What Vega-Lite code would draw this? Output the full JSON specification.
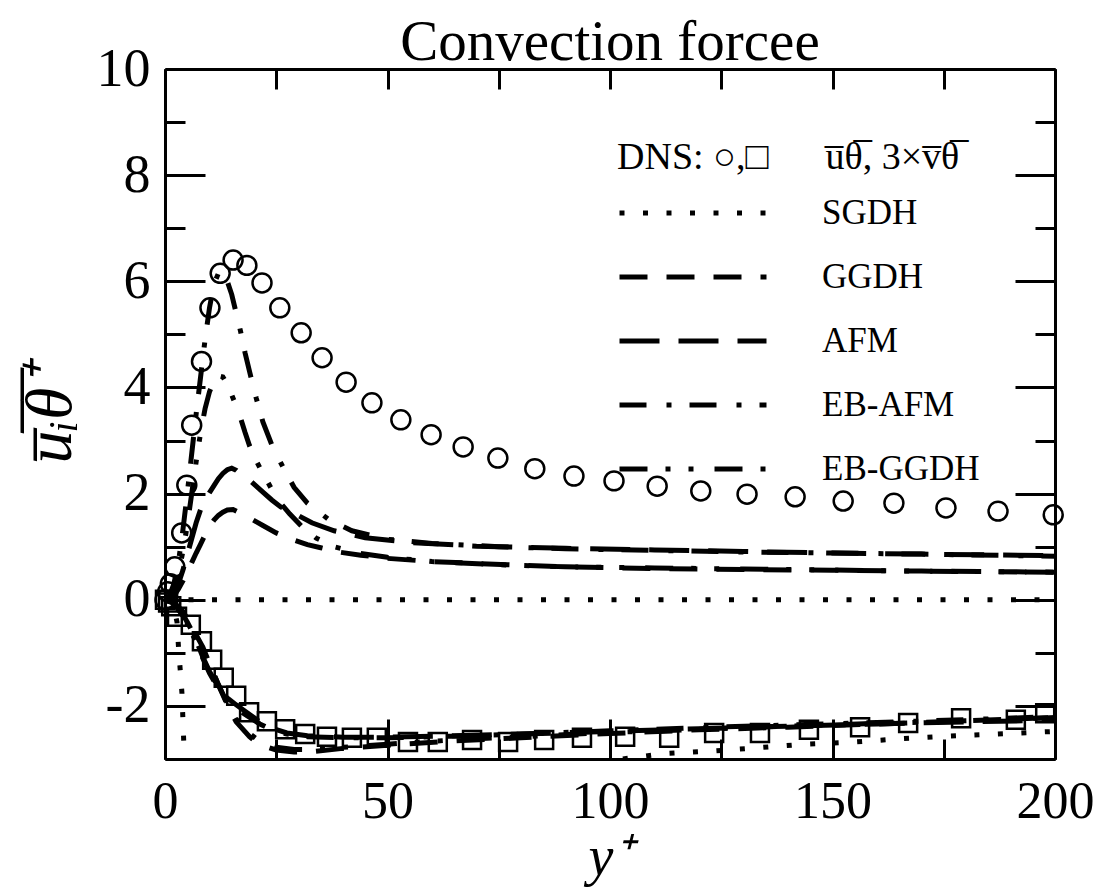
{
  "$schema": "https://vega.github.io/schema/vega-lite/v6.json",
  "autosize": {"type": "none"},
  "width": 890,
  "height": 690,
  "padding": {"left": 165, "top": 69, "right": 46, "bottom": 128},
  "background": "white",
  "title": {"text": "Convection forcee", "font": "Liberation Serif", "fontSize": 57, "fontWeight": "normal", "anchor": "middle", "offset": -30, "color": "black"},
  "config": {
    "view": {"stroke": null},
    "font": "Liberation Serif",
    "axis": {"domainColor": "black", "domainWidth": 3, "tickColor": "black", "tickWidth": 3, "grid": false, "labelFont": "Liberation Serif", "labelColor": "black", "labelFlush": false, "labelOverlap": false, "labelBound": false, "titleColor": "black", "titleFont": "Liberation Serif", "titleFontWeight": "normal", "titleFontStyle": "italic"}
  },
  "datasets": {
    "models": [
      {"model":"SGDH","branch":"u","yplus":0,"value":0},{"model":"SGDH","branch":"u","yplus":200,"value":0},
      {"model":"GGDH","branch":"u","yplus":0,"value":0},{"model":"GGDH","branch":"u","yplus":2,"value":0.08},{"model":"GGDH","branch":"u","yplus":3,"value":0.2},{"model":"GGDH","branch":"u","yplus":4,"value":0.35},{"model":"GGDH","branch":"u","yplus":5,"value":0.52},{"model":"GGDH","branch":"u","yplus":6,"value":0.7},{"model":"GGDH","branch":"u","yplus":7,"value":0.88},{"model":"GGDH","branch":"u","yplus":8,"value":1.05},{"model":"GGDH","branch":"u","yplus":9,"value":1.22},{"model":"GGDH","branch":"u","yplus":10,"value":1.38},{"model":"GGDH","branch":"u","yplus":11,"value":1.5},{"model":"GGDH","branch":"u","yplus":12,"value":1.59},{"model":"GGDH","branch":"u","yplus":13,"value":1.65},{"model":"GGDH","branch":"u","yplus":14,"value":1.69},{"model":"GGDH","branch":"u","yplus":15.3,"value":1.7},{"model":"GGDH","branch":"u","yplus":17,"value":1.63},{"model":"GGDH","branch":"u","yplus":19,"value":1.54},{"model":"GGDH","branch":"u","yplus":22,"value":1.4},{"model":"GGDH","branch":"u","yplus":25,"value":1.26},{"model":"GGDH","branch":"u","yplus":28.8,"value":1.13},{"model":"GGDH","branch":"u","yplus":32,"value":1.04},{"model":"GGDH","branch":"u","yplus":35,"value":0.98},{"model":"GGDH","branch":"u","yplus":39,"value":0.9},{"model":"GGDH","branch":"u","yplus":44,"value":0.84},{"model":"GGDH","branch":"u","yplus":50,"value":0.78},{"model":"GGDH","branch":"u","yplus":60,"value":0.72},{"model":"GGDH","branch":"u","yplus":77,"value":0.66},{"model":"GGDH","branch":"u","yplus":90,"value":0.62},{"model":"GGDH","branch":"u","yplus":110,"value":0.59},{"model":"GGDH","branch":"u","yplus":130,"value":0.57},{"model":"GGDH","branch":"u","yplus":150,"value":0.555},{"model":"GGDH","branch":"u","yplus":170,"value":0.54},{"model":"GGDH","branch":"u","yplus":200,"value":0.52},
      {"model":"AFM","branch":"u","yplus":0,"value":0},{"model":"AFM","branch":"u","yplus":1,"value":0.03},{"model":"AFM","branch":"u","yplus":2,"value":0.12},{"model":"AFM","branch":"u","yplus":3,"value":0.3},{"model":"AFM","branch":"u","yplus":4,"value":0.55},{"model":"AFM","branch":"u","yplus":5,"value":0.85},{"model":"AFM","branch":"u","yplus":6,"value":1.15},{"model":"AFM","branch":"u","yplus":7,"value":1.45},{"model":"AFM","branch":"u","yplus":8,"value":1.7},{"model":"AFM","branch":"u","yplus":9,"value":1.88},{"model":"AFM","branch":"u","yplus":10,"value":2.02},{"model":"AFM","branch":"u","yplus":11,"value":2.15},{"model":"AFM","branch":"u","yplus":12,"value":2.28},{"model":"AFM","branch":"u","yplus":13,"value":2.38},{"model":"AFM","branch":"u","yplus":14,"value":2.45},{"model":"AFM","branch":"u","yplus":15,"value":2.48},{"model":"AFM","branch":"u","yplus":16,"value":2.44},{"model":"AFM","branch":"u","yplus":17,"value":2.37},{"model":"AFM","branch":"u","yplus":18.4,"value":2.3},{"model":"AFM","branch":"u","yplus":20,"value":2.18},{"model":"AFM","branch":"u","yplus":22,"value":2.03},{"model":"AFM","branch":"u","yplus":24,"value":1.88},{"model":"AFM","branch":"u","yplus":26,"value":1.75},{"model":"AFM","branch":"u","yplus":29,"value":1.63},{"model":"AFM","branch":"u","yplus":33,"value":1.45},{"model":"AFM","branch":"u","yplus":38,"value":1.3},{"model":"AFM","branch":"u","yplus":45,"value":1.17},{"model":"AFM","branch":"u","yplus":55,"value":1.08},{"model":"AFM","branch":"u","yplus":70,"value":1.01},{"model":"AFM","branch":"u","yplus":90,"value":0.97},{"model":"AFM","branch":"u","yplus":110,"value":0.94},{"model":"AFM","branch":"u","yplus":130,"value":0.91},{"model":"AFM","branch":"u","yplus":150,"value":0.88},{"model":"AFM","branch":"u","yplus":170,"value":0.86},{"model":"AFM","branch":"u","yplus":200,"value":0.83},
      {"model":"EB-AFM","branch":"u","yplus":0,"value":0},{"model":"EB-AFM","branch":"u","yplus":1,"value":0.08},{"model":"EB-AFM","branch":"u","yplus":2,"value":0.3},{"model":"EB-AFM","branch":"u","yplus":3,"value":0.7},{"model":"EB-AFM","branch":"u","yplus":4,"value":1.3},{"model":"EB-AFM","branch":"u","yplus":5,"value":2.0},{"model":"EB-AFM","branch":"u","yplus":6,"value":2.75},{"model":"EB-AFM","branch":"u","yplus":7,"value":3.5},{"model":"EB-AFM","branch":"u","yplus":8,"value":4.2},{"model":"EB-AFM","branch":"u","yplus":9,"value":4.9},{"model":"EB-AFM","branch":"u","yplus":10,"value":5.5},{"model":"EB-AFM","branch":"u","yplus":11,"value":5.95},{"model":"EB-AFM","branch":"u","yplus":12,"value":6.15},{"model":"EB-AFM","branch":"u","yplus":13,"value":6.18},{"model":"EB-AFM","branch":"u","yplus":14,"value":6.0},{"model":"EB-AFM","branch":"u","yplus":15,"value":5.75},{"model":"EB-AFM","branch":"u","yplus":16,"value":5.4},{"model":"EB-AFM","branch":"u","yplus":17,"value":5.05},{"model":"EB-AFM","branch":"u","yplus":18,"value":4.65},{"model":"EB-AFM","branch":"u","yplus":19,"value":4.3},{"model":"EB-AFM","branch":"u","yplus":20.5,"value":3.8},{"model":"EB-AFM","branch":"u","yplus":22,"value":3.35},{"model":"EB-AFM","branch":"u","yplus":24,"value":2.92},{"model":"EB-AFM","branch":"u","yplus":26.5,"value":2.5},{"model":"EB-AFM","branch":"u","yplus":29,"value":2.12},{"model":"EB-AFM","branch":"u","yplus":32,"value":1.82},{"model":"EB-AFM","branch":"u","yplus":37,"value":1.5},{"model":"EB-AFM","branch":"u","yplus":42,"value":1.3},{"model":"EB-AFM","branch":"u","yplus":50,"value":1.14},{"model":"EB-AFM","branch":"u","yplus":60,"value":1.06},{"model":"EB-AFM","branch":"u","yplus":75,"value":1.0},{"model":"EB-AFM","branch":"u","yplus":90,"value":0.96},{"model":"EB-AFM","branch":"u","yplus":110,"value":0.93},{"model":"EB-AFM","branch":"u","yplus":130,"value":0.9},{"model":"EB-AFM","branch":"u","yplus":150,"value":0.88},{"model":"EB-AFM","branch":"u","yplus":170,"value":0.86},{"model":"EB-AFM","branch":"u","yplus":200,"value":0.82},
      {"model":"EB-GGDH","branch":"u","yplus":0,"value":0},{"model":"EB-GGDH","branch":"u","yplus":1,"value":0.05},{"model":"EB-GGDH","branch":"u","yplus":2,"value":0.2},{"model":"EB-GGDH","branch":"u","yplus":3,"value":0.5},{"model":"EB-GGDH","branch":"u","yplus":4,"value":0.9},{"model":"EB-GGDH","branch":"u","yplus":5,"value":1.4},{"model":"EB-GGDH","branch":"u","yplus":6,"value":2.0},{"model":"EB-GGDH","branch":"u","yplus":7,"value":2.6},{"model":"EB-GGDH","branch":"u","yplus":8,"value":3.15},{"model":"EB-GGDH","branch":"u","yplus":9,"value":3.6},{"model":"EB-GGDH","branch":"u","yplus":10,"value":3.92},{"model":"EB-GGDH","branch":"u","yplus":11,"value":4.12},{"model":"EB-GGDH","branch":"u","yplus":12,"value":4.22},{"model":"EB-GGDH","branch":"u","yplus":13,"value":4.2},{"model":"EB-GGDH","branch":"u","yplus":14,"value":4.05},{"model":"EB-GGDH","branch":"u","yplus":15,"value":3.86},{"model":"EB-GGDH","branch":"u","yplus":16,"value":3.65},{"model":"EB-GGDH","branch":"u","yplus":17,"value":3.42},{"model":"EB-GGDH","branch":"u","yplus":18,"value":3.15},{"model":"EB-GGDH","branch":"u","yplus":19,"value":2.9},{"model":"EB-GGDH","branch":"u","yplus":20.5,"value":2.62},{"model":"EB-GGDH","branch":"u","yplus":22,"value":2.38},{"model":"EB-GGDH","branch":"u","yplus":24,"value":2.08},{"model":"EB-GGDH","branch":"u","yplus":26,"value":1.82},{"model":"EB-GGDH","branch":"u","yplus":28,"value":1.62},{"model":"EB-GGDH","branch":"u","yplus":31,"value":1.36},{"model":"EB-GGDH","branch":"u","yplus":34,"value":1.16},{"model":"EB-GGDH","branch":"u","yplus":38,"value":1.0},{"model":"EB-GGDH","branch":"u","yplus":44,"value":0.87},{"model":"EB-GGDH","branch":"u","yplus":50,"value":0.8},{"model":"EB-GGDH","branch":"u","yplus":60,"value":0.72},{"model":"EB-GGDH","branch":"u","yplus":75,"value":0.66},{"model":"EB-GGDH","branch":"u","yplus":90,"value":0.62},{"model":"EB-GGDH","branch":"u","yplus":110,"value":0.6},{"model":"EB-GGDH","branch":"u","yplus":130,"value":0.58},{"model":"EB-GGDH","branch":"u","yplus":150,"value":0.56},{"model":"EB-GGDH","branch":"u","yplus":170,"value":0.54},{"model":"EB-GGDH","branch":"u","yplus":200,"value":0.52},
      {"model":"SGDH","branch":"v","yplus":0,"value":0},{"model":"SGDH","branch":"v","yplus":1,"value":-0.03},{"model":"SGDH","branch":"v","yplus":2,"value":-0.15},{"model":"SGDH","branch":"v","yplus":2.7,"value":-0.42},{"model":"SGDH","branch":"v","yplus":3,"value":-0.85},{"model":"SGDH","branch":"v","yplus":3.4,"value":-1.3},{"model":"SGDH","branch":"v","yplus":3.8,"value":-1.75},{"model":"SGDH","branch":"v","yplus":4,"value":-2.2},{"model":"SGDH","branch":"v","yplus":4.2,"value":-2.65},{"model":"SGDH","branch":"v","yplus":4.5,"value":-3.2},{"model":"SGDH","branch":"v","yplus":6,"value":-4},{"model":"SGDH","branch":"v","yplus":10,"value":-4.6},{"model":"SGDH","branch":"v","yplus":20,"value":-4.8},{"model":"SGDH","branch":"v","yplus":40,"value":-4.3},{"model":"SGDH","branch":"v","yplus":60,"value":-3.8},{"model":"SGDH","branch":"v","yplus":80,"value":-3.4},{"model":"SGDH","branch":"v","yplus":100,"value":-3.03},{"model":"SGDH","branch":"v","yplus":112,"value":-2.9},{"model":"SGDH","branch":"v","yplus":123,"value":-2.85},{"model":"SGDH","branch":"v","yplus":133,"value":-2.79},{"model":"SGDH","branch":"v","yplus":144,"value":-2.72},{"model":"SGDH","branch":"v","yplus":155,"value":-2.68},{"model":"SGDH","branch":"v","yplus":165,"value":-2.62},{"model":"SGDH","branch":"v","yplus":176,"value":-2.57},{"model":"SGDH","branch":"v","yplus":187,"value":-2.53},{"model":"SGDH","branch":"v","yplus":200,"value":-2.48},
      {"model":"GGDH","branch":"v","yplus":0,"value":0},{"model":"GGDH","branch":"v","yplus":2,"value":-0.05},{"model":"GGDH","branch":"v","yplus":4,"value":-0.22},{"model":"GGDH","branch":"v","yplus":5,"value":-0.35},{"model":"GGDH","branch":"v","yplus":6,"value":-0.5},{"model":"GGDH","branch":"v","yplus":7,"value":-0.66},{"model":"GGDH","branch":"v","yplus":8.5,"value":-0.89},{"model":"GGDH","branch":"v","yplus":10,"value":-1.2},{"model":"GGDH","branch":"v","yplus":12,"value":-1.6},{"model":"GGDH","branch":"v","yplus":14,"value":-1.98},{"model":"GGDH","branch":"v","yplus":16,"value":-2.3},{"model":"GGDH","branch":"v","yplus":19,"value":-2.58},{"model":"GGDH","branch":"v","yplus":21,"value":-2.72},{"model":"GGDH","branch":"v","yplus":25,"value":-2.83},{"model":"GGDH","branch":"v","yplus":29,"value":-2.87},{"model":"GGDH","branch":"v","yplus":33,"value":-2.86},{"model":"GGDH","branch":"v","yplus":40,"value":-2.8},{"model":"GGDH","branch":"v","yplus":50,"value":-2.74},{"model":"GGDH","branch":"v","yplus":65,"value":-2.66},{"model":"GGDH","branch":"v","yplus":80,"value":-2.6},{"model":"GGDH","branch":"v","yplus":100,"value":-2.52},{"model":"GGDH","branch":"v","yplus":120,"value":-2.45},{"model":"GGDH","branch":"v","yplus":140,"value":-2.4},{"model":"GGDH","branch":"v","yplus":160,"value":-2.34},{"model":"GGDH","branch":"v","yplus":180,"value":-2.28},{"model":"GGDH","branch":"v","yplus":200,"value":-2.22},
      {"model":"EB-GGDH","branch":"v","yplus":0,"value":0},{"model":"EB-GGDH","branch":"v","yplus":2,"value":-0.05},{"model":"EB-GGDH","branch":"v","yplus":4,"value":-0.25},{"model":"EB-GGDH","branch":"v","yplus":5,"value":-0.38},{"model":"EB-GGDH","branch":"v","yplus":6,"value":-0.53},{"model":"EB-GGDH","branch":"v","yplus":7,"value":-0.7},{"model":"EB-GGDH","branch":"v","yplus":8.5,"value":-0.93},{"model":"EB-GGDH","branch":"v","yplus":10,"value":-1.22},{"model":"EB-GGDH","branch":"v","yplus":12,"value":-1.6},{"model":"EB-GGDH","branch":"v","yplus":14,"value":-1.95},{"model":"EB-GGDH","branch":"v","yplus":16,"value":-2.25},{"model":"EB-GGDH","branch":"v","yplus":19,"value":-2.52},{"model":"EB-GGDH","branch":"v","yplus":21,"value":-2.65},{"model":"EB-GGDH","branch":"v","yplus":25,"value":-2.78},{"model":"EB-GGDH","branch":"v","yplus":29,"value":-2.82},{"model":"EB-GGDH","branch":"v","yplus":33,"value":-2.82},{"model":"EB-GGDH","branch":"v","yplus":40,"value":-2.78},{"model":"EB-GGDH","branch":"v","yplus":50,"value":-2.72},{"model":"EB-GGDH","branch":"v","yplus":65,"value":-2.64},{"model":"EB-GGDH","branch":"v","yplus":80,"value":-2.58},{"model":"EB-GGDH","branch":"v","yplus":100,"value":-2.5},{"model":"EB-GGDH","branch":"v","yplus":120,"value":-2.44},{"model":"EB-GGDH","branch":"v","yplus":140,"value":-2.38},{"model":"EB-GGDH","branch":"v","yplus":160,"value":-2.33},{"model":"EB-GGDH","branch":"v","yplus":180,"value":-2.28},{"model":"EB-GGDH","branch":"v","yplus":200,"value":-2.22},
      {"model":"AFM","branch":"v","yplus":0,"value":0},{"model":"AFM","branch":"v","yplus":2,"value":-0.06},{"model":"AFM","branch":"v","yplus":4,"value":-0.28},{"model":"AFM","branch":"v","yplus":5,"value":-0.42},{"model":"AFM","branch":"v","yplus":6,"value":-0.58},{"model":"AFM","branch":"v","yplus":7,"value":-0.76},{"model":"AFM","branch":"v","yplus":8.5,"value":-1.08},{"model":"AFM","branch":"v","yplus":10,"value":-1.35},{"model":"AFM","branch":"v","yplus":12,"value":-1.65},{"model":"AFM","branch":"v","yplus":14,"value":-1.85},{"model":"AFM","branch":"v","yplus":16,"value":-1.98},{"model":"AFM","branch":"v","yplus":18,"value":-2.1},{"model":"AFM","branch":"v","yplus":21.3,"value":-2.3},{"model":"AFM","branch":"v","yplus":24,"value":-2.42},{"model":"AFM","branch":"v","yplus":27.4,"value":-2.51},{"model":"AFM","branch":"v","yplus":32,"value":-2.56},{"model":"AFM","branch":"v","yplus":40,"value":-2.59},{"model":"AFM","branch":"v","yplus":50,"value":-2.59},{"model":"AFM","branch":"v","yplus":65,"value":-2.56},{"model":"AFM","branch":"v","yplus":80,"value":-2.53},{"model":"AFM","branch":"v","yplus":100,"value":-2.48},{"model":"AFM","branch":"v","yplus":120,"value":-2.43},{"model":"AFM","branch":"v","yplus":140,"value":-2.38},{"model":"AFM","branch":"v","yplus":160,"value":-2.34},{"model":"AFM","branch":"v","yplus":180,"value":-2.3},{"model":"AFM","branch":"v","yplus":200,"value":-2.27},
      {"model":"EB-AFM","branch":"v","yplus":0,"value":0},{"model":"EB-AFM","branch":"v","yplus":2,"value":-0.07},{"model":"EB-AFM","branch":"v","yplus":4,"value":-0.3},{"model":"EB-AFM","branch":"v","yplus":5,"value":-0.45},{"model":"EB-AFM","branch":"v","yplus":6,"value":-0.62},{"model":"EB-AFM","branch":"v","yplus":7,"value":-0.8},{"model":"EB-AFM","branch":"v","yplus":8.5,"value":-1.1},{"model":"EB-AFM","branch":"v","yplus":10,"value":-1.38},{"model":"EB-AFM","branch":"v","yplus":12,"value":-1.68},{"model":"EB-AFM","branch":"v","yplus":14,"value":-1.9},{"model":"EB-AFM","branch":"v","yplus":16,"value":-2.04},{"model":"EB-AFM","branch":"v","yplus":18,"value":-2.16},{"model":"EB-AFM","branch":"v","yplus":21.3,"value":-2.34},{"model":"EB-AFM","branch":"v","yplus":24,"value":-2.45},{"model":"EB-AFM","branch":"v","yplus":27.4,"value":-2.53},{"model":"EB-AFM","branch":"v","yplus":32,"value":-2.58},{"model":"EB-AFM","branch":"v","yplus":40,"value":-2.6},{"model":"EB-AFM","branch":"v","yplus":50,"value":-2.6},{"model":"EB-AFM","branch":"v","yplus":65,"value":-2.57},{"model":"EB-AFM","branch":"v","yplus":80,"value":-2.53},{"model":"EB-AFM","branch":"v","yplus":100,"value":-2.47},{"model":"EB-AFM","branch":"v","yplus":120,"value":-2.41},{"model":"EB-AFM","branch":"v","yplus":140,"value":-2.36},{"model":"EB-AFM","branch":"v","yplus":160,"value":-2.31},{"model":"EB-AFM","branch":"v","yplus":180,"value":-2.26},{"model":"EB-AFM","branch":"v","yplus":200,"value":-2.2}
    ],
    "dnsU": [
      {"yplus":0,"value":0},{"yplus":0.6,"value":0.15},{"yplus":1.2,"value":0.3},{"yplus":2.2,"value":0.62},{"yplus":3.75,"value":1.26},{"yplus":4.9,"value":2.16},{"yplus":6.0,"value":3.29},{"yplus":8.2,"value":4.49},{"yplus":10.1,"value":5.5},{"yplus":12.4,"value":6.15},{"yplus":15.3,"value":6.4},{"yplus":18.4,"value":6.3},{"yplus":21.8,"value":5.97},{"yplus":25.8,"value":5.5},{"yplus":30.6,"value":5.03},{"yplus":35.3,"value":4.56},{"yplus":40.7,"value":4.1},{"yplus":46.5,"value":3.71},{"yplus":53,"value":3.39},{"yplus":59.8,"value":3.11},{"yplus":67,"value":2.88},{"yplus":74.8,"value":2.67},{"yplus":83.1,"value":2.47},{"yplus":91.9,"value":2.33},{"yplus":100.9,"value":2.24},{"yplus":110.6,"value":2.14},{"yplus":120.4,"value":2.05},{"yplus":130.8,"value":1.99},{"yplus":141.6,"value":1.94},{"yplus":152.4,"value":1.86},{"yplus":163.8,"value":1.82},{"yplus":175.5,"value":1.73},{"yplus":187.2,"value":1.67},{"yplus":199.6,"value":1.6}
    ],
    "dnsV": [
      {"yplus":0,"value":0},{"yplus":0.7,"value":-0.05},{"yplus":1.4,"value":-0.12},{"yplus":2.7,"value":-0.32},{"yplus":5.8,"value":-0.47},{"yplus":8.3,"value":-0.78},{"yplus":10.6,"value":-1.13},{"yplus":13.2,"value":-1.47},{"yplus":16.0,"value":-1.81},{"yplus":18.9,"value":-2.12},{"yplus":22.9,"value":-2.29},{"yplus":27.0,"value":-2.44},{"yplus":31.5,"value":-2.53},{"yplus":36.4,"value":-2.58},{"yplus":42.0,"value":-2.6},{"yplus":47.6,"value":-2.6},{"yplus":54.6,"value":-2.68},{"yplus":61.3,"value":-2.68},{"yplus":69.0,"value":-2.64},{"yplus":77.1,"value":-2.68},{"yplus":85.2,"value":-2.64},{"yplus":93.7,"value":-2.6},{"yplus":103.4,"value":-2.58},{"yplus":113.3,"value":-2.6},{"yplus":123.4,"value":-2.51},{"yplus":133.7,"value":-2.51},{"yplus":144.7,"value":-2.45},{"yplus":156.2,"value":-2.4},{"yplus":167.0,"value":-2.32},{"yplus":178.9,"value":-2.23},{"yplus":191.2,"value":-2.26},{"yplus":197.8,"value":-2.14}
    ]
  },
  "resolve": {"axis": {"x": "independent", "y": "independent"}},
  "layer": [
    {
      "data": {"name": "models"},
      "transform": [{"filter": "datum.branch == 'u'"}],
      "mark": {"type": "line", "clip": true, "stroke": "black", "strokeWidth": 5, "strokeCap": "butt"},
      "encoding": {
        "x": {"field": "yplus", "type": "quantitative", "scale": {"domain": [0, 200], "nice": false, "zero": false},
              "axis": {"orient": "bottom", "values": [0, 50, 100, 150, 200], "tickSize": -40, "labelPadding": 57, "labelFontSize": 52, "title": "y\u207a", "titleFontSize": 56, "titlePadding": 3}},
        "y": {"field": "value", "type": "quantitative", "scale": {"domain": [-3, 10], "nice": false, "zero": false},
              "axis": {"orient": "left", "values": [-2, 0, 2, 4, 6, 8, 10], "tickSize": -40, "labelPadding": 55, "labelFontSize": 54, "labelExpr": "datum.value + ''", "title": "u\u0305\u1d62\u0305\u03b8\u0305\u207a", "titleFontSize": 66, "titlePadding": 12}},
        "detail": {"field": "branch"},
        "strokeDash": {"field": "model", "type": "nominal",
          "scale": {"domain": ["SGDH", "GGDH", "AFM", "EB-AFM", "EB-GGDH"], "range": [[5, 18.5], [28, 19], [40, 19], [27, 20, 5, 18], [28, 18, 5, 18, 5, 21]]},
          "legend": {"orient": "none", "legendX": 452, "legendY": 70, "padding": 0, "title": "DNS: \u25cb,\u25a1\u2003\u2002u\u0305\u03b8\u0305, 3\u00d7v\u0305\u03b8\u0305", "titleLimit": 600, "titleFont": "Liberation Serif", "titleFontSize": 38, "titleFontWeight": "normal", "titleColor": "black", "titlePadding": 16, "symbolType": "stroke", "symbolSize": 21609, "symbolStrokeWidth": 5, "symbolStrokeColor": "black", "clipHeight": 40, "rowPadding": 24, "labelOffset": 53, "labelFont": "Liberation Serif", "labelFontSize": 35, "labelColor": "black", "labelLimit": 300}}
      }
    },
    {
      "data": {"name": "models"},
      "transform": [{"filter": "datum.branch == 'v'"}],
      "mark": {"type": "line", "clip": true, "stroke": "black", "strokeWidth": 5, "strokeCap": "butt"},
      "encoding": {
        "x": {"field": "yplus", "type": "quantitative",
              "axis": {"orient": "bottom", "values": [25, 75, 125, 175], "tickSize": -20, "labels": false, "title": null}},
        "y": {"field": "value", "type": "quantitative",
              "axis": {"orient": "left", "values": [-1, 1, 3, 5, 7, 9], "tickSize": -20, "labels": false, "title": null}},
        "detail": {"field": "branch"},
        "strokeDash": {"field": "model", "type": "nominal"}
      }
    },
    {
      "data": {"name": "dnsU"},
      "mark": {"type": "point", "shape": "circle", "size": 360, "filled": false, "stroke": "black", "strokeWidth": 2.5, "opacity": 1},
      "encoding": {
        "x": {"field": "yplus", "type": "quantitative",
              "axis": {"orient": "top", "values": [0, 25, 50, 75, 100, 125, 150, 175, 200], "tickSize": -20, "labels": false, "title": null}},
        "y": {"field": "value", "type": "quantitative",
              "axis": {"orient": "right", "values": [-2, 0, 2, 4, 6, 8, 10], "tickSize": -40, "labels": false, "title": null}}
      }
    },
    {
      "data": {"name": "dnsV"},
      "mark": {"type": "point", "shape": "square", "size": 324, "filled": false, "stroke": "black", "strokeWidth": 2.5, "opacity": 1},
      "encoding": {
        "x": {"field": "yplus", "type": "quantitative", "axis": null},
        "y": {"field": "value", "type": "quantitative",
              "axis": {"orient": "right", "values": [-1, 1, 3, 5, 7, 9], "tickSize": -20, "labels": false, "title": null}}
      }
    }
  ]
}
